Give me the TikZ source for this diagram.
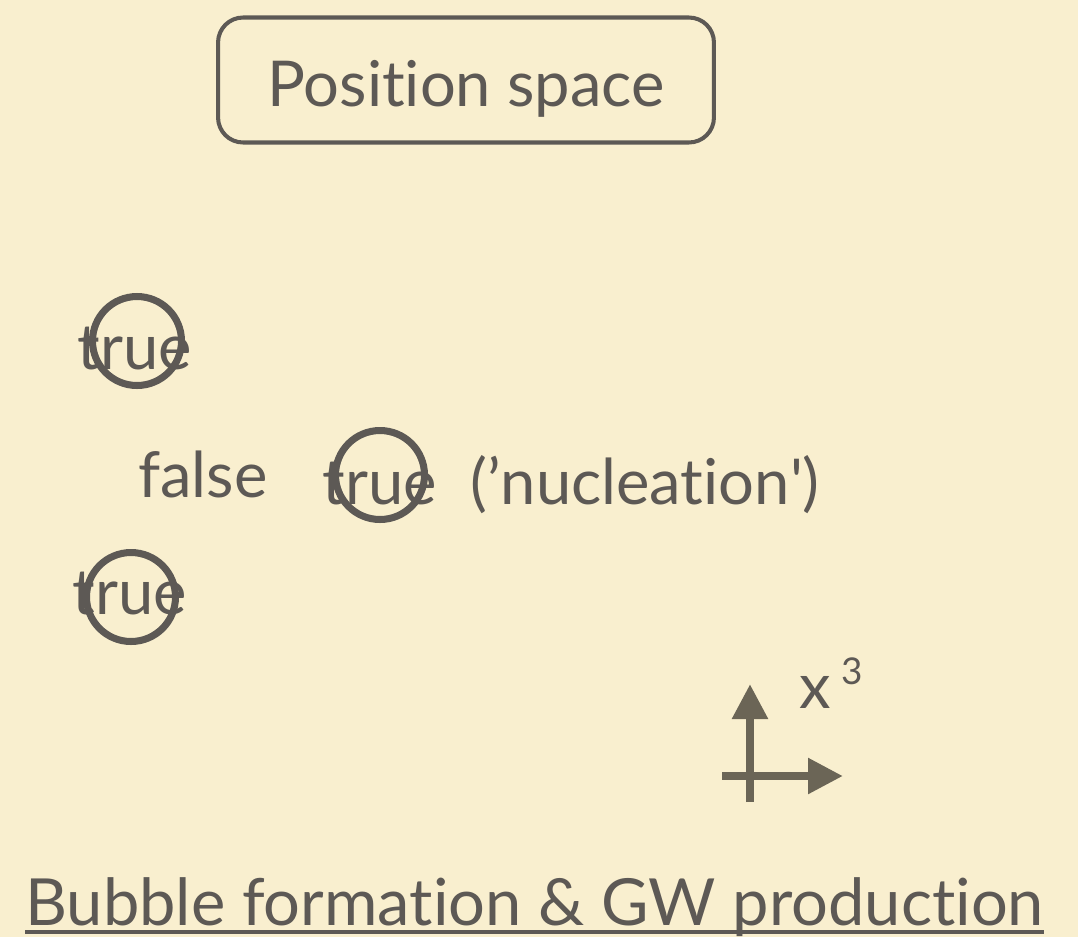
\documentclass[tikz,border=0pt]{standalone}
\usepackage{fontspec}
\setmainfont{Lato}[Ligatures=NoCommon]
\usetikzlibrary{arrows.meta}
\definecolor{parchment}{HTML}{F9EFCF}
\definecolor{ink}{HTML}{5D5955}
\definecolor{axisink}{HTML}{6B6556}
\tikzset{
  word/.style={text=ink, font=\fontsize{36}{43}\selectfont, inner sep=0pt},
  bubble/.style={circle, draw=ink, line width=4pt, minimum size=1.78cm, inner sep=0pt},
  axis/.style={draw=axisink, line width=4.8pt, -{Triangle[length=0.7cm,width=0.68cm]}},
}
\begin{document}
\begin{tikzpicture}[x=0.02cm,y=-0.02cm]
    % Background and page size
    \fill[parchment] (0,0) rectangle (1078,937);

    % Heading box
    \node[word, draw=ink, line width=2.3pt, rounded corners=0.5cm,
          minimum width=9.92cm, minimum height=2.5cm,
          text height=1.4cm, text depth=0.34cm] (space) at (466,80) {Position space};

    % Bubbles of true vacuum in the false one
    \node[bubble] (b1) at (137,341) {};
    \node[word, anchor=base] (t1) at (135,369) {true};
    \node[word, anchor=base] (f) at (203,497) {false};
    \node[bubble] (b2) at (380,475) {};
    \node[word, anchor=base] (t2) at (380,504) {true};
    \node[word, anchor=base west] (nuc) at (470,504) {(’nucleation\textquotesingle)};
    \node[bubble] (b3) at (131,597) {};
    \node[word, anchor=base] (t3) at (130,614) {true};

    % Axes
    \coordinate (down) at (750,802);
    \coordinate (up) at (750,684);
    \coordinate (left) at (722,776);
    \coordinate (right) at (843,776);
    \draw[axis] (down) -- (up);
    \draw[axis] (left) -- (right);
    \node[word, anchor=base west] (x3) at (799,708)
         {x\hspace{0.22cm}\raisebox{0.48cm}{\fontsize{21}{21}\selectfont 3}};

    % Caption, underlined
    \node[word, font=\fontsize{37}{44}\selectfont, anchor=base west] (title) at (25,925)
         {Bubble formation \& GW production};
    \draw[ink, line width=1.8pt] ([yshift=-0.14cm]title.base west) -- ([yshift=-0.14cm]title.base east);
\end{tikzpicture}
\end{document}
